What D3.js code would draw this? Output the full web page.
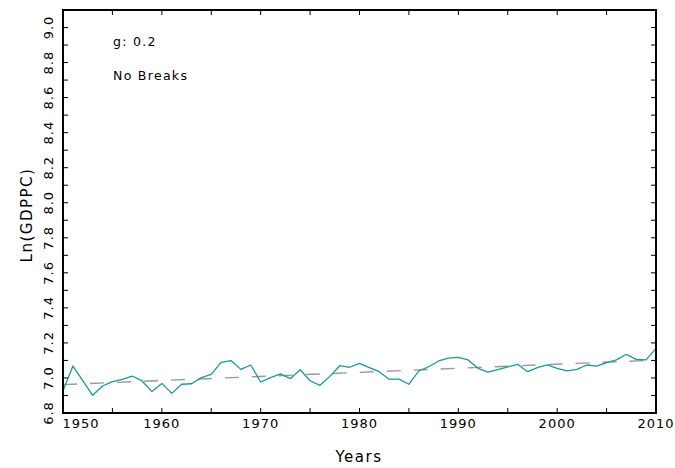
<!DOCTYPE html>
<html>
<head>
<meta charset="utf-8">
<script src="https://cdn.jsdelivr.net/npm/d3@7"></script>
<style>
html,body{margin:0;padding:0;background:#fff;}
svg{display:block;}
text{font-family:"DejaVu Sans",sans-serif;fill:#000;}
</style>
</head>
<body>
<svg id="chart" width="675" height="468"></svg>
<script>
const years = [1950,1951,1952,1953,1954,1955,1956,1957,1958,1959,
  1960,1961,1962,1963,1964,1965,1966,1967,1968,1969,
  1970,1971,1972,1973,1974,1975,1976,1977,1978,1979,
  1980,1981,1982,1983,1984,1985,1986,1987,1988,1989,
  1990,1991,1992,1993,1994,1995,1996,1997,1998,1999,
  2000,2001,2002,2003,2004,2005,2006,2007,2008,2009,2010];
const lnGdppc = [6.926,7.068,6.985,6.901,6.954,6.979,6.992,7.011,6.983,6.922,
  6.969,6.912,6.964,6.967,7.002,7.020,7.089,7.099,7.049,7.074,
  6.977,7.002,7.023,6.996,7.047,6.984,6.958,7.009,7.070,7.061,
  7.083,7.059,7.036,6.993,6.993,6.964,7.040,7.064,7.097,7.113,
  7.117,7.103,7.055,7.033,7.048,7.063,7.078,7.036,7.059,7.074,
  7.055,7.040,7.049,7.074,7.068,7.087,7.103,7.135,7.106,7.103,7.169];
const trendYears = [1950, 2010];
const trendValues = [6.962, 7.102];
const xMajorTicks = [1950,1960,1970,1980,1990,2000,2010];
const xTickLabels = ["1950","1960","1970","1980","1990","2000","2010"];
const xMinorTicks = [1955,1965,1975,1985,1995,2005];
const yMajorTicks = [6.8,7.0,7.2,7.4,7.6,7.8,8.0,8.2,8.4,8.6,8.8,9.0];
const yTickLabels = ["6.8","7.0","7.2","7.4","7.6","7.8","8.0","8.2","8.4","8.6","8.8","9.0"];
const yMinorTicks = [6.9,7.1,7.3,7.5,7.7,7.9,8.1,8.3,8.5,8.7,8.9];
const annotations = ["g: 0.2", "No Breaks"];

const L = 63, R = 656, T = 10, B = 413;
const svg = d3.select("#chart");
const x = d3.scaleLinear().domain([1950, 2010]).range([L, R]);
const y = d3.scaleLinear().domain([6.8, 9.1]).range([B, T]);

// trend (dashed)
svg.append("path")
  .datum(trendYears.map((yr,i)=>[yr, trendValues[i]]))
  .attr("d", d3.line().x(d=>x(d[0])).y(d=>y(d[1])))
  .attr("fill","none").attr("stroke","#999").attr("stroke-width",1.4)
  .attr("stroke-dasharray","14,13");

// data line
svg.append("path")
  .datum(years.map((yr,i)=>[yr, lnGdppc[i]]))
  .attr("d", d3.line().x(d=>x(d[0])).y(d=>y(d[1])))
  .attr("fill","none").attr("stroke","#1a9a9a").attr("stroke-width",1.3)
  .attr("stroke-linejoin","round");

// ticks
const tk = svg.append("g").attr("stroke","#000").attr("stroke-width",1);
const allX = xMajorTicks.concat(xMinorTicks);
allX.forEach(v=>{
  const len = 5;
  tk.append("line").attr("x1",x(v)).attr("x2",x(v)).attr("y1",B).attr("y2",B-len);
  tk.append("line").attr("x1",x(v)).attr("x2",x(v)).attr("y1",T).attr("y2",T+len);
});
const allY = yMajorTicks.concat(yMinorTicks);
allY.forEach(v=>{
  const len = 5;
  tk.append("line").attr("y1",y(v)).attr("y2",y(v)).attr("x1",L).attr("x2",L+len);
  tk.append("line").attr("y1",y(v)).attr("y2",y(v)).attr("x1",R).attr("x2",R-len);
});

// frame
svg.append("rect").attr("x",L).attr("y",T).attr("width",R-L).attr("height",B-T)
  .attr("fill","none").attr("stroke","#000").attr("stroke-width",2);

// x tick labels
xMajorTicks.forEach((v,i)=>{
  const px = i === 0 ? x(v) + 18 : x(v);
  svg.append("text").attr("x",px).attr("y",428)
    .attr("text-anchor","middle").attr("font-size",13).attr("letter-spacing",1)
    .text(xTickLabels[i]);
});
// y tick labels (rotated)
yMajorTicks.forEach((v,i)=>{
  svg.append("text")
    .attr("transform",`translate(53,${y(v)}) rotate(-90)`)
    .attr("text-anchor","middle").attr("font-size",13).attr("letter-spacing",1)
    .text(yTickLabels[i]);
});

// axis titles
svg.append("text").attr("x",359).attr("y",462).attr("text-anchor","middle")
  .attr("font-size",15).attr("letter-spacing",1.5).text("Years");
svg.append("text").attr("transform","translate(32,215) rotate(-90)")
  .attr("text-anchor","middle").attr("font-size",15).attr("letter-spacing",1.5).text("Ln(GDPPC)");

// annotations
svg.append("text").attr("x",113).attr("y",46).attr("font-size",12.5).attr("letter-spacing",1.3).text(annotations[0]);
svg.append("text").attr("x",113).attr("y",80).attr("font-size",12.5).attr("letter-spacing",1.3).text(annotations[1]);
</script>
</body>
</html>
